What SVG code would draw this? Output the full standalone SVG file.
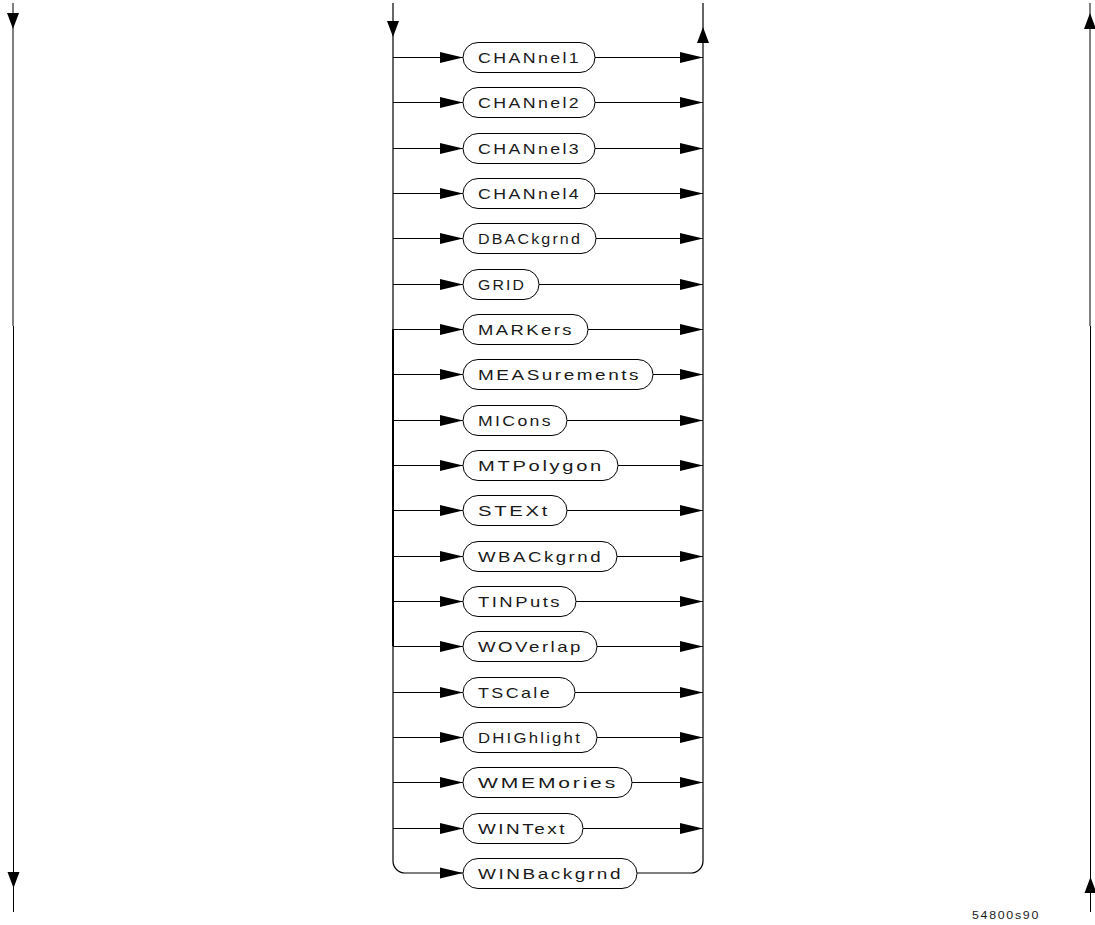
<svg xmlns="http://www.w3.org/2000/svg" xmlns:xlink="http://www.w3.org/1999/xlink" width="1095" height="925" viewBox="0 0 1095 925">
<style>
.ln{fill:none;stroke:#000;stroke-width:1}
.pill{fill:#fff;stroke:#000;stroke-width:1}
.lbl{font-family:"Liberation Sans",Arial,sans-serif;font-size:15px;letter-spacing:2px;fill:#1a1a1a}
.id{font-family:"Liberation Sans",Arial,sans-serif;font-size:11px;letter-spacing:1.5px;fill:#1a1a1a}
.ah{fill:#000;stroke:none}
</style>
<defs>
<path id="ahR" class="ah" d="M-23,-5.5 L0,0 L-23,5.5 Z"/>
<path id="ahD" class="ah" d="M-6,-16 L6,-16 L0,0 Z"/>
<path id="ahU" class="ah" d="M-6,16 L6,16 L0,0 Z"/>
</defs>
<rect width="1095" height="925" fill="#fff"/>
<g id="connectors">
<line class="ln" x1="13" y1="3" x2="13" y2="326"/>
<line class="ln" x1="13.5" y1="326" x2="13.5" y2="912"/>
<use xlink:href="#ahD" x="13" y="29"/>
<use xlink:href="#ahD" x="13.5" y="888"/>
<line class="ln" x1="1090" y1="3" x2="1090" y2="326"/>
<line class="ln" x1="1090.5" y1="326" x2="1090.5" y2="912"/>
<use xlink:href="#ahU" x="1090" y="13"/>
<use xlink:href="#ahU" x="1090.5" y="877"/>
<line class="ln" x1="393" y1="3" x2="393" y2="329" style="stroke-width:1.2"/>
<line class="ln" x1="393" y1="329" x2="393" y2="646" style="stroke-width:2"/>
<path class="ln" d="M393,646 L393,861 A12,12 0 0 0 405,873 L463,873" style="stroke-width:1.2"/>
<use xlink:href="#ahD" x="393" y="37"/>
<path class="ln" d="M637,873 L691,873 A12,12 0 0 0 703,861 L703,3" style="stroke-width:1.2"/>
<use xlink:href="#ahU" x="703" y="27"/>
<path class="ln" d="M393,57.5H463M595,57.5H703 M393,102.5H463M595,102.5H703 M393,148.5H463M595,148.5H703 M393,193.5H463M595,193.5H703 M393,238.5H463M596,238.5H703 M393,284.5H463M539,284.5H703 M393,329.5H463M588,329.5H703 M393,374.5H463M653,374.5H703 M393,420.5H463M567,420.5H703 M393,465.5H463M618,465.5H703 M393,510.5H463M567,510.5H703 M393,556.5H463M617,556.5H703 M393,601.5H463M576,601.5H703 M393,646.5H463M597,646.5H703 M393,692.5H463M575,692.5H703 M393,737.5H463M597,737.5H703 M393,782.5H463M632,782.5H703 M393,828.5H463M583,828.5H703"/>
<use xlink:href="#ahR" x="463" y="57.5"/><use xlink:href="#ahR" x="703" y="57.5"/>
<use xlink:href="#ahR" x="463" y="102.5"/><use xlink:href="#ahR" x="703" y="102.5"/>
<use xlink:href="#ahR" x="463" y="148.5"/><use xlink:href="#ahR" x="703" y="148.5"/>
<use xlink:href="#ahR" x="463" y="193.5"/><use xlink:href="#ahR" x="703" y="193.5"/>
<use xlink:href="#ahR" x="463" y="238.5"/><use xlink:href="#ahR" x="703" y="238.5"/>
<use xlink:href="#ahR" x="463" y="284.5"/><use xlink:href="#ahR" x="703" y="284.5"/>
<use xlink:href="#ahR" x="463" y="329.5"/><use xlink:href="#ahR" x="703" y="329.5"/>
<use xlink:href="#ahR" x="463" y="374.5"/><use xlink:href="#ahR" x="703" y="374.5"/>
<use xlink:href="#ahR" x="463" y="420.5"/><use xlink:href="#ahR" x="703" y="420.5"/>
<use xlink:href="#ahR" x="463" y="465.5"/><use xlink:href="#ahR" x="703" y="465.5"/>
<use xlink:href="#ahR" x="463" y="510.5"/><use xlink:href="#ahR" x="703" y="510.5"/>
<use xlink:href="#ahR" x="463" y="556.5"/><use xlink:href="#ahR" x="703" y="556.5"/>
<use xlink:href="#ahR" x="463" y="601.5"/><use xlink:href="#ahR" x="703" y="601.5"/>
<use xlink:href="#ahR" x="463" y="646.5"/><use xlink:href="#ahR" x="703" y="646.5"/>
<use xlink:href="#ahR" x="463" y="692.5"/><use xlink:href="#ahR" x="703" y="692.5"/>
<use xlink:href="#ahR" x="463" y="737.5"/><use xlink:href="#ahR" x="703" y="737.5"/>
<use xlink:href="#ahR" x="463" y="782.5"/><use xlink:href="#ahR" x="703" y="782.5"/>
<use xlink:href="#ahR" x="463" y="828.5"/><use xlink:href="#ahR" x="703" y="828.5"/>
<use xlink:href="#ahR" x="463" y="873"/>
</g>
<g id="n-channel1"><rect class="pill" x="463" y="42.5" width="132" height="30" rx="15"/><text class="lbl" x="478" y="63" textLength="103" lengthAdjust="spacingAndGlyphs">CHANnel1</text></g>
<g id="n-channel2"><rect class="pill" x="463" y="87.5" width="132" height="30" rx="15"/><text class="lbl" x="478" y="108" textLength="103" lengthAdjust="spacingAndGlyphs">CHANnel2</text></g>
<g id="n-channel3"><rect class="pill" x="463" y="133.5" width="132" height="30" rx="15"/><text class="lbl" x="478" y="154" textLength="103" lengthAdjust="spacingAndGlyphs">CHANnel3</text></g>
<g id="n-channel4"><rect class="pill" x="463" y="178.5" width="132" height="30" rx="15"/><text class="lbl" x="478" y="199" textLength="103" lengthAdjust="spacingAndGlyphs">CHANnel4</text></g>
<g id="n-dbackgrnd"><rect class="pill" x="463" y="223.5" width="133" height="30" rx="15"/><text class="lbl" x="478" y="244" textLength="104" lengthAdjust="spacingAndGlyphs">DBACkgrnd</text></g>
<g id="n-grid"><rect class="pill" x="463" y="269.5" width="76" height="30" rx="15"/><text class="lbl" x="478" y="290" textLength="48" lengthAdjust="spacingAndGlyphs">GRID</text></g>
<g id="n-markers"><rect class="pill" x="463" y="314.5" width="125" height="30" rx="15"/><text class="lbl" x="478" y="335" textLength="96" lengthAdjust="spacingAndGlyphs">MARKers</text></g>
<g id="n-measurements"><rect class="pill" x="463" y="359.5" width="190" height="30" rx="15"/><text class="lbl" x="478" y="380" textLength="163" lengthAdjust="spacingAndGlyphs">MEASurements</text></g>
<g id="n-micons"><rect class="pill" x="463" y="405.5" width="104" height="30" rx="15"/><text class="lbl" x="478" y="426" textLength="75" lengthAdjust="spacingAndGlyphs">MICons</text></g>
<g id="n-mtpolygon"><rect class="pill" x="463" y="450.5" width="155" height="30" rx="15"/><text class="lbl" x="478" y="471" textLength="126" lengthAdjust="spacingAndGlyphs">MTPolygon</text></g>
<g id="n-stext"><rect class="pill" x="463" y="495.5" width="104" height="30" rx="15"/><text class="lbl" x="478" y="516" textLength="72" lengthAdjust="spacingAndGlyphs">STEXt</text></g>
<g id="n-wbackgrnd"><rect class="pill" x="463" y="541.5" width="154" height="30" rx="15"/><text class="lbl" x="478" y="562" textLength="125" lengthAdjust="spacingAndGlyphs">WBACkgrnd</text></g>
<g id="n-tinputs"><rect class="pill" x="463" y="586.5" width="113" height="30" rx="15"/><text class="lbl" x="478" y="607" textLength="84" lengthAdjust="spacingAndGlyphs">TINPuts</text></g>
<g id="n-woverlap"><rect class="pill" x="463" y="631.5" width="134" height="30" rx="15"/><text class="lbl" x="478" y="652" textLength="105" lengthAdjust="spacingAndGlyphs">WOVerlap</text></g>
<g id="n-tscale"><rect class="pill" x="463" y="677.5" width="112" height="30" rx="15"/><text class="lbl" x="478" y="698" textLength="74" lengthAdjust="spacingAndGlyphs">TSCale</text></g>
<g id="n-dhighlight"><rect class="pill" x="463" y="722.5" width="134" height="30" rx="15"/><text class="lbl" x="478" y="743" textLength="104" lengthAdjust="spacingAndGlyphs">DHIGhlight</text></g>
<g id="n-wmemories"><rect class="pill" x="463" y="767.5" width="169" height="30" rx="15"/><text class="lbl" x="478" y="788" textLength="140" lengthAdjust="spacingAndGlyphs">WMEMories</text></g>
<g id="n-wintext"><rect class="pill" x="463" y="813.5" width="120" height="30" rx="15"/><text class="lbl" x="478" y="834" textLength="89" lengthAdjust="spacingAndGlyphs">WINText</text></g>
<g id="n-winbackgrnd"><rect class="pill" x="463" y="858.5" width="174" height="30" rx="15"/><text class="lbl" x="478" y="879" textLength="145" lengthAdjust="spacingAndGlyphs">WINBackgrnd</text></g>
<text class="id" x="972" y="919" textLength="68" lengthAdjust="spacingAndGlyphs">54800s90</text>
</svg>
